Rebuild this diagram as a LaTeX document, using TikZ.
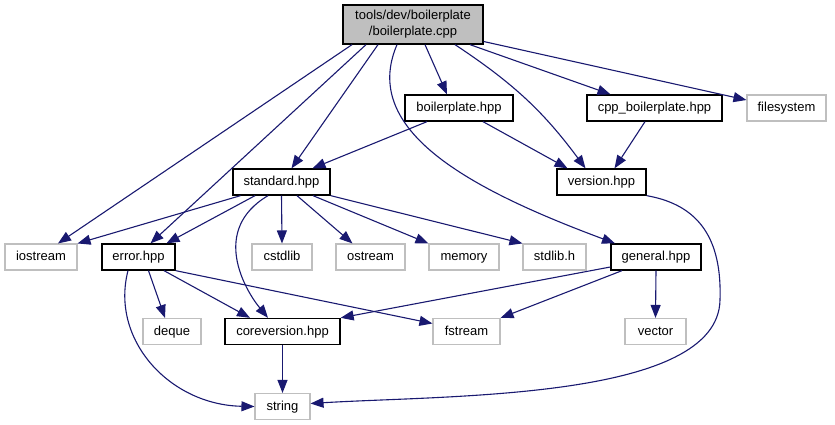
\documentclass[tikz,border=0pt]{standalone}
\usepackage{fontspec}
\setmainfont{Liberation Sans}
\usetikzlibrary{arrows.meta}
\definecolor{incblue}{HTML}{191970}
\definecolor{sysgray}{HTML}{BFBFBF}
\begin{document}
\begin{tikzpicture}[x=1pt,y=-1pt,
    hdr/.style={draw=black,line width=1.3pt,minimum height=26pt,inner sep=0pt,
        text height=9.5pt,text depth=2.5pt,font=\fontsize{13}{16}\selectfont},
    syshdr/.style={hdr,draw=sysgray,line width=1.1pt},
    inc/.style={draw=incblue,line width=1.1pt,-{Triangle[length=13pt,width=10pt]}}]
    \useasboundingbox (0,0) rectangle (835,425);

    \node[hdr,fill=sysgray,align=center,minimum width=140pt,minimum height=39pt,
        text height=,text depth=] (root) at (413,24.5)
        {tools/dev/boilerplate\\/boilerplate.cpp};

    \node[hdr,minimum width=108pt] (boilerplate) at (459,108) {boilerplate.hpp};
    \node[hdr,minimum width=135pt] (cppboiler) at (654.5,108) {cpp\_boilerplate.hpp};
    \node[syshdr,minimum width=79pt] (filesystem) at (786.5,108) {filesystem};
    \node[hdr,minimum width=89pt] (version) at (601.5,182) {version.hpp};
    \node[hdr,minimum width=97pt] (standard) at (281.5,182) {standard.hpp};

    \node[syshdr,minimum width=72pt] (iostream) at (41,257) {iostream};
    \node[hdr,minimum width=73pt] (error) at (138.5,257) {error.hpp};
    \node[syshdr,minimum width=60pt] (cstdlib) at (282,257) {cstdlib};
    \node[syshdr,minimum width=69pt] (ostream) at (370.5,257) {ostream};
    \node[syshdr,minimum width=70pt] (memory) at (464,257) {memory};
    \node[syshdr,minimum width=63pt] (stdlib) at (554.5,257) {stdlib.h};
    \node[hdr,minimum width=90pt] (general) at (656,257) {general.hpp};

    \node[syshdr,minimum width=58pt] (deque) at (172,331.5) {deque};
    \node[hdr,minimum width=115pt] (coreversion) at (282.5,331.5) {coreversion.hpp};
    \node[syshdr,minimum width=67pt] (fstream) at (466.5,331.5) {fstream};
    \node[syshdr,minimum width=61pt] (vector) at (655.5,331.5) {vector};
    \node[syshdr,minimum width=55pt] (string) at (282.5,406.5) {string};

    % includes of boilerplate.cpp
    \draw[inc] ([xshift=-61pt]root.south) -- ([xshift=17pt]iostream.north);
    \draw[inc] ([xshift=-47pt]root.south) -- ([xshift=12pt]error.north);
    \draw[inc] ([xshift=-35pt]root.south) -- ([xshift=10pt]standard.north);
    \draw[inc] ([xshift=12pt]root.south) -- ([xshift=-12pt]boilerplate.north);
    \draw[inc] ([xshift=42pt]root.south) to[bend left=10] ([xshift=-16pt]version.north);
    \draw[inc] ([xshift=57pt]root.south) -- ([xshift=-44pt]cppboiler.north);
    \draw[inc] ([yshift=-17pt]root.east) -- ([yshift=8pt]filesystem.west);
    \draw[inc] ([xshift=-16pt]root.south) .. controls +(-37,86) and +(-145,-54) .. ([xshift=-41pt]general.north);

    % boilerplate.hpp and cpp_boilerplate.hpp
    \draw[inc] ([xshift=-32pt]boilerplate.south) -- ([xshift=31pt]standard.north);
    \draw[inc] ([xshift=24pt]boilerplate.south) -- ([xshift=-34pt]version.north);
    \draw[inc] ([xshift=-9.5pt]cppboiler.south) -- ([xshift=13pt]version.north);
    \draw[inc] (version.south east) .. controls (700,205) and (722,240) .. (720,300)
        .. controls (718,400) and (450,395) .. ([yshift=3pt]string.east);

    % standard.hpp
    \draw[inc] ([xshift=-41pt]standard.south) -- (iostream.north east);
    \draw[inc] ([xshift=-26.5pt]standard.south) -- ([xshift=28pt]error.north);
    \draw[inc] ([xshift=-13.5pt]standard.south) .. controls (210,230) and (245,290) .. ([xshift=-14.5pt]coreversion.north);
    \draw[inc] (standard.south) -- (cstdlib.north);
    \draw[inc] ([xshift=15.5pt]standard.south) -- ([xshift=-18pt]ostream.north);
    \draw[inc] ([xshift=31.5pt]standard.south) -- (memory.north west);
    \draw[inc] (standard.south east) -- (stdlib.north west);

    % error.hpp
    \draw[inc] ([xshift=10pt]error.south) -- ([xshift=-7pt]deque.north);
    \draw[inc] ([xshift=25.5pt]error.south) -- ([xshift=-32.5pt]coreversion.north);
    \draw[inc] (error.south east) -- ([yshift=8pt]fstream.west);
    \draw[inc] ([xshift=-10.5pt]error.south) .. controls (110,340) and (170,405) .. (string.west);

    % general.hpp
    \draw[inc] ([yshift=-10pt]general.west) -- (coreversion.north east);
    \draw[inc] ([xshift=-34pt]general.south) -- (fstream.north east);
    \draw[inc] (general.south) -- (vector.north);

    \draw[inc] (coreversion.south) -- (string.north);
\end{tikzpicture}
\end{document}
